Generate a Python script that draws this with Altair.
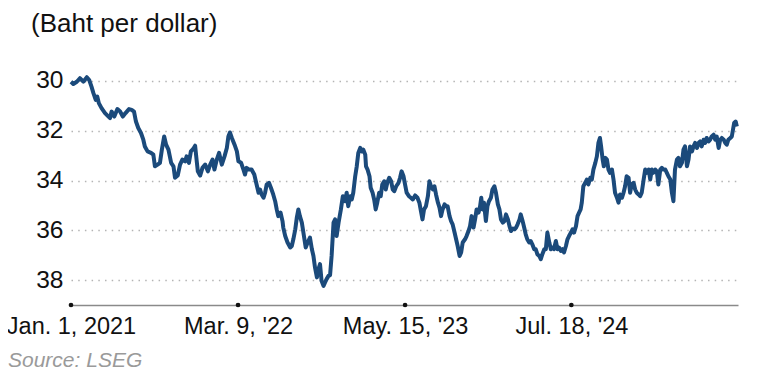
import altair as alt
import pandas as pd

# Days since Jan. 1, 2021 and baht-per-dollar readings
days = [0, 6, 15, 23, 32, 41, 47, 53, 58, 64, 68, 72, 79, 88, 97, 101, 105, 112, 120, 127,
        134, 141, 150, 157, 163, 168, 174, 181, 187, 191, 198, 207, 213, 217, 224, 230, 235, 241, 246, 252,
        259, 265, 269, 276, 282, 288, 295, 299, 305, 310, 316, 321, 325, 328, 334, 340, 347, 354, 360, 366,
        371, 377, 383, 390, 397, 403, 407, 411, 416, 423, 429, 433, 440, 446, 450, 454, 460, 467, 474, 480,
        485, 489, 493, 498, 502, 506, 512, 517, 523, 528, 532, 536, 542, 547, 549, 554, 560, 567, 571, 575,
        580, 584, 588, 592, 597, 601, 607, 612, 618, 623, 627, 631, 636, 640, 644, 648, 653, 657, 661, 666,
        670, 674, 679, 683, 687, 692, 698, 703, 709, 713, 717, 722, 726, 730, 735, 739, 743, 748, 752, 756,
        761, 763, 767, 772, 775, 780, 784, 788, 792, 797, 801, 805, 810, 814, 818, 823, 828, 832, 836, 841,
        847, 851, 855, 860, 864, 868, 874, 879, 884, 890, 896, 901, 905, 909, 913, 918, 923, 927, 931, 936,
        940, 944, 949, 953, 957, 961, 966, 970, 974, 979, 983, 987, 992, 996, 1000, 1005, 1009, 1013, 1019, 1023,
        1028, 1032, 1036, 1041, 1045, 1049, 1054, 1058, 1061, 1064, 1068, 1073, 1077, 1081, 1086, 1090, 1095, 1099, 1104, 1108,
        1112, 1117, 1121, 1125, 1130, 1134, 1138, 1143, 1147, 1151, 1155, 1160, 1163, 1168, 1172, 1176, 1180, 1185, 1189, 1193,
        1198, 1202, 1206, 1211, 1215, 1219, 1224, 1228, 1232, 1237, 1241, 1245, 1249, 1254, 1258, 1262, 1267, 1271, 1275, 1280,
        1284, 1288, 1293, 1297, 1301, 1306, 1310, 1314, 1318, 1321, 1325, 1330, 1334, 1338, 1343, 1347, 1351, 1356, 1360, 1364,
        1368, 1371, 1375, 1378, 1382, 1386, 1390, 1394, 1399, 1403, 1407, 1412, 1416, 1420, 1425, 1429, 1433, 1437, 1442, 1446,
        1450, 1455, 1459, 1463, 1468, 1472, 1476, 1481, 1485, 1489, 1494, 1498, 1502, 1506, 1511, 1515, 1519, 1524, 1528, 1532,
        1537, 1541, 1545, 1550, 1554, 1558, 1562, 1567, 1571, 1575, 1580, 1584, 1588, 1593, 1597, 1601, 1606, 1610, 1614, 1619,
        1623, 1627, 1631, 1636, 1640, 1644, 1649, 1653, 1657, 1662, 1666, 1670, 1675, 1679, 1683, 1688, 1692, 1696, 1700, 1705,
        1709, 1712, 1715, 1719, 1722]

baht = [30.03, 30.12, 30.03, 29.89, 30.03, 29.85, 29.96, 30.23, 30.49, 30.76, 30.63, 30.89, 31.09, 31.29, 31.43, 31.49, 31.23, 31.43, 31.13, 31.23,
        31.43, 31.29, 31.13, 31.16, 31.23, 31.63, 31.89, 32.09, 32.36, 32.63, 32.83, 32.89, 32.96, 33.43, 33.36, 33.29, 32.76, 32.23, 32.56, 32.76,
        33.29, 33.43, 33.89, 33.80, 33.36, 33.16, 33.23, 33.03, 33.29, 32.83, 32.73, 32.60, 33.20, 33.63, 33.80, 33.49, 33.36, 33.63, 33.36, 33.16,
        33.56, 33.16, 32.89, 33.36, 33.03, 32.69, 32.23, 32.07, 32.29, 32.56, 32.83, 33.23, 33.29, 33.56, 33.76, 33.49, 33.56, 33.56, 33.76, 34.16,
        34.49, 34.36, 34.56, 34.69, 34.49, 34.16, 34.09, 34.29, 34.56, 34.83, 35.16, 35.43, 35.29, 35.63, 35.89, 36.23, 36.49, 36.69, 36.63, 36.36,
        35.96, 35.49, 35.16, 35.43, 35.69, 36.09, 36.69, 36.49, 36.29, 36.76, 37.03, 37.49, 37.89, 37.56, 37.36, 38.03, 38.23, 38.09, 37.96, 37.83,
        37.80, 37.03, 35.69, 35.56, 36.23, 35.69, 35.16, 34.63, 34.83, 34.49, 35.03, 34.63, 34.76, 34.49, 33.83, 33.43, 32.89, 32.69, 32.83, 32.76,
        32.96, 33.43, 33.56, 33.83, 34.29, 34.49, 34.76, 35.16, 34.89, 34.49, 34.63, 34.16, 34.03, 34.36, 34.09, 33.89, 34.03, 34.36, 34.43, 34.23,
        34.09, 33.89, 33.63, 33.83, 34.16, 34.49, 34.63, 34.69, 34.76, 34.60, 34.69, 34.89, 35.23, 35.56, 35.16, 35.03, 34.63, 34.03, 34.23, 34.36,
        34.23, 34.56, 34.89, 35.09, 35.43, 35.16, 34.96, 35.03, 35.03, 35.43, 35.63, 35.76, 36.09, 36.36, 36.63, 37.03, 36.89, 36.49, 36.36, 36.23,
        36.03, 35.83, 35.43, 35.89, 35.56, 35.16, 35.29, 35.03, 34.69, 35.16, 34.89, 35.63, 35.03, 34.83, 34.69, 34.36, 34.23, 34.49, 34.96, 35.16,
        35.56, 35.69, 35.63, 35.36, 35.56, 35.83, 36.03, 35.93, 35.96, 35.89, 35.76, 35.56, 35.36, 35.63, 35.89, 36.16, 36.36, 36.49, 36.43, 36.56,
        36.76, 36.76, 36.96, 37.03, 37.16, 36.96, 36.76, 36.76, 36.09, 36.49, 36.76, 36.69, 36.76, 36.43, 36.76, 36.69, 36.83, 36.76, 36.89, 36.63,
        36.36, 36.23, 36.09, 35.96, 36.09, 35.83, 35.43, 35.29, 35.16, 34.89, 34.23, 34.09, 33.96, 34.16, 33.89, 33.96, 33.56, 33.29, 33.03, 32.49,
        32.29, 32.63, 33.16, 33.43, 33.09, 33.16, 33.56, 33.69, 33.56, 33.96, 34.49, 34.69, 34.89, 34.56, 34.69, 34.49, 34.23, 33.83, 33.89, 34.49,
        34.16, 34.09, 34.36, 34.49, 34.56, 34.63, 34.49, 33.96, 33.56, 33.69, 33.56, 33.96, 33.56, 33.69, 33.56, 33.63, 34.16, 33.56, 33.49, 33.56,
        33.56, 33.69, 33.83, 33.96, 34.49, 34.83, 33.56, 33.16, 33.09, 33.43, 33.29, 32.76, 32.63, 33.43, 33.16, 32.63, 32.83, 32.63, 32.49, 32.69,
        32.49, 32.43, 32.63, 32.36, 32.49, 32.29, 32.43, 32.36, 32.23, 32.16, 32.36, 32.23, 32.69, 32.36, 32.29, 32.36, 32.49, 32.56, 32.36, 32.29,
        32.23, 31.96, 31.69, 31.63, 31.83]

tick_dates = ["2021-01-01", "2022-03-09", "2023-05-15", "2024-07-18"]
tick_labels = ["Jan. 1, 2021", "Mar. 9, '22", "May. 15, '23", "Jul. 18, '24"]
y_ticks = [30, 32, 34, 36, 38]
title_text = "(Baht per dollar)"
source_text = "Source: LSEG"

start = pd.Timestamp("2021-01-01")
dates = [(start + pd.Timedelta(days=d)).strftime("%Y-%m-%d") for d in days]
df = pd.DataFrame({"date": dates, "baht": baht})
ticks_df = pd.DataFrame({"date": tick_dates})

end_date = (start + pd.Timedelta(days=1725))
label_map = "{" + ", ".join(f"'{d}': \"{l}\"" for d, l in zip(tick_dates, tick_labels)) + "}"

W, H = 667, 234
FONT = "Liberation Sans"

x_scale = alt.Scale(type="utc",
                    domain=[alt.DateTime(year=2021, month=1, date=1, utc=True),
                            alt.DateTime(year=end_date.year, month=end_date.month, date=end_date.day, utc=True)],
                    nice=False)
y_scale = alt.Scale(domain=[29.6, 39], reverse=True, nice=False, zero=False)

x_axis = alt.Axis(
    values=[alt.DateTime(year=int(d[:4]), month=int(d[5:7]), date=int(d[8:]), utc=True) for d in tick_dates],
    labelExpr=label_map + "[utcFormat(datum.value, '%Y-%m-%d')]",
    title=None, grid=False, ticks=False,
    domainColor="#8a8a8a", domainWidth=1.5,
    labelFont=FONT, labelFontSize=23.5, labelColor="#111111", labelPadding=9,
    labelOverlap=False, labelFlush=False,
)
y_axis = alt.Axis(
    values=y_ticks, title=None, domain=False, ticks=False,
    grid=True, gridColor="#b4b4b4", gridDash=[1.5, 5.2], gridWidth=1.6,
    labelFont=FONT, labelFontSize=24.5, labelColor="#111111", labelPadding=8,
)

line = alt.Chart(df).mark_line(color="#1b4a7b", strokeWidth=4, strokeJoin="round").encode(
    x=alt.X("date:T", scale=x_scale, axis=x_axis),
    y=alt.Y("baht:Q", scale=y_scale, axis=y_axis),
)

dots = alt.Chart(ticks_df).mark_circle(color="#111111", size=22, opacity=1).encode(
    x=alt.X("date:T", scale=x_scale),
    y=alt.value(H),
)

title = alt.Chart(pd.DataFrame({"t": [title_text]})).mark_text(
    align="left", baseline="alphabetic", font=FONT, fontSize=26, color="#111111"
).encode(text="t:N", x=alt.value(-40), y=alt.value(-39))

source = alt.Chart(pd.DataFrame({"t": [source_text]})).mark_text(
    align="left", baseline="alphabetic", font=FONT, fontSize=21, fontStyle="italic", color="#9a9a9a"
).encode(text="t:N", x=alt.value(-63), y=alt.value(296))

chart = alt.layer(line, dots, title, source).properties(
    width=W, height=H,
    padding={"left": 63, "top": 63, "right": 23, "bottom": 68},
    autosize=alt.AutoSizeParams(type="none"),
    background="white",
).configure_view(stroke=None)

chart.save("out.html", embed_options={"renderer": "svg", "actions": False})
